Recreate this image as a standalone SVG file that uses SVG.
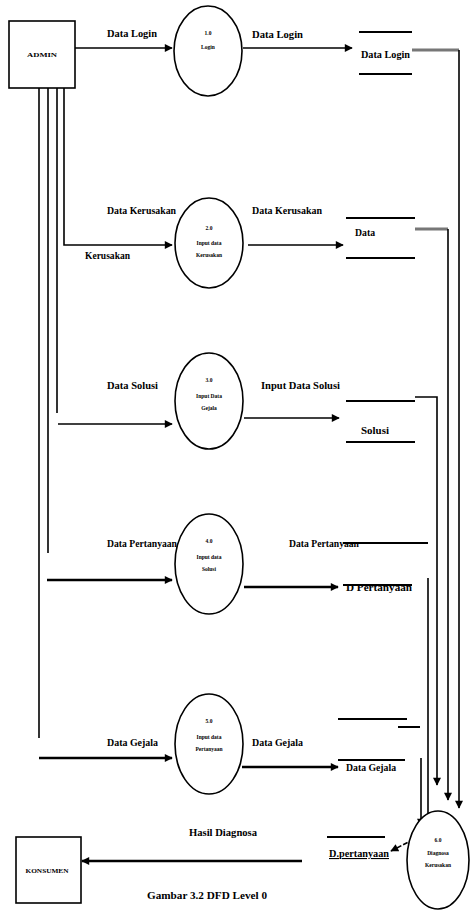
<svg xmlns="http://www.w3.org/2000/svg" width="471" height="913" viewBox="0 0 471 913">
<style>
  .bg{fill:#fff}
  .box{fill:#fff;stroke:#000;stroke-width:1.6}
  .proc{fill:#fff;stroke:#000;stroke-width:1.6}
  .ln{fill:none;stroke:#000;stroke-width:1.6}
  .thk{fill:none;stroke:#000;stroke-width:2.4}
  .gry{fill:none;stroke:#777;stroke-width:3}
  .st{fill:none;stroke:#000;stroke-width:2}
  .lbl{font-family:"Liberation Serif",serif;font-weight:bold;font-size:11px;fill:#000}
  .sm{font-family:"Liberation Serif",serif;font-weight:bold;font-size:5.5px;fill:#000;text-anchor:middle}
</style>
<defs>
  <marker id="ah2" viewBox="0 0 10 10" refX="9" refY="5" markerWidth="9" markerHeight="8" orient="auto" markerUnits="userSpaceOnUse">
    <path d="M0,0 L10,5 L0,10 z" fill="#000"/>
  </marker>
</defs>
<rect class="bg" x="0" y="0" width="471" height="913"/>

<g id="connectors">
  <line class="ln" x1="75" y1="48" x2="172" y2="48" marker-end="url(#ah2)"/>
  <line class="ln" x1="243" y1="48" x2="352" y2="48" marker-end="url(#ah2)"/>
  <polyline class="ln" points="64,75 64,245 172,245" marker-end="url(#ah2)"/>
  <line class="ln" x1="57" y1="75" x2="57" y2="413"/>
  <line class="ln" x1="58" y1="424" x2="172" y2="424" marker-end="url(#ah2)"/>
  <line class="ln" x1="48" y1="75" x2="48" y2="553"/>
  <line class="thk" x1="47" y1="580" x2="172" y2="580" marker-end="url(#ah2)"/>
  <line class="ln" x1="39" y1="75" x2="39" y2="738"/>
  <line class="thk" x1="39" y1="758" x2="172" y2="758" stroke="#555" marker-end="url(#ah2)"/>
  <line class="ln" x1="248" y1="245" x2="343" y2="245" marker-end="url(#ah2)"/>
  <line class="ln" x1="244" y1="418" x2="339" y2="418" marker-end="url(#ah2)"/>
  <line class="thk" x1="244" y1="587" x2="338" y2="587" marker-end="url(#ah2)"/>
  <line class="thk" x1="242" y1="767" x2="338" y2="767" marker-end="url(#ah2)"/>
  <line class="gry" x1="412" y1="50" x2="459" y2="50"/>
  <line class="ln" x1="459" y1="50" x2="459" y2="808" marker-end="url(#ah2)"/>
  <line class="gry" x1="415" y1="229" x2="448" y2="229"/>
  <line class="ln" x1="448" y1="229" x2="448" y2="800" marker-end="url(#ah2)"/>
  <polyline class="ln" points="415,397 437,397 437,785" marker-end="url(#ah2)"/>
  <line class="ln" x1="428" y1="578" x2="428" y2="826" marker-end="url(#ah2)"/>
  <line class="ln" x1="421" y1="758" x2="421" y2="826" marker-end="url(#ah2)"/>
  <line class="ln" x1="420" y1="836" x2="391" y2="851" stroke-dasharray="5,2" marker-end="url(#ah2)"/>
  <line class="thk" x1="302" y1="861" x2="82" y2="861" marker-end="url(#ah2)"/>
</g>

<g id="admin">
  <rect class="box" x="9" y="21" width="66" height="67"/>
  <text class="sm" x="42" y="57" textLength="30" lengthAdjust="spacingAndGlyphs">ADMIN</text>
</g>

<g id="p1">
  <ellipse class="proc" cx="208" cy="51" rx="34" ry="45"/>
  <text class="sm" x="208" y="35">1.0</text>
  <text class="sm" x="208" y="49">Login</text>
</g>

<g id="p2">
  <ellipse class="proc" cx="209" cy="243" rx="34" ry="45"/>
  <text class="sm" x="209" y="230">2.0</text>
  <text class="sm" x="209" y="245">Input data</text>
  <text class="sm" x="209" y="257">Kerusakan</text>
</g>

<g id="p3">
  <ellipse class="proc" cx="209" cy="401" rx="34" ry="48"/>
  <text class="sm" x="209" y="382">3.0</text>
  <text class="sm" x="209" y="398">Input Data</text>
  <text class="sm" x="209" y="410">Gejala</text>
</g>

<g id="p4">
  <ellipse class="proc" cx="209" cy="564" rx="34" ry="50"/>
  <text class="sm" x="209" y="543">4.0</text>
  <text class="sm" x="209" y="559">Input data</text>
  <text class="sm" x="209" y="571">Solusi</text>
</g>

<g id="p5">
  <ellipse class="proc" cx="209" cy="744" rx="34" ry="50"/>
  <text class="sm" x="209" y="723">5.0</text>
  <text class="sm" x="209" y="739">Input data</text>
  <text class="sm" x="209" y="751">Pertanyaan</text>
</g>

<g id="p6">
  <ellipse class="proc" cx="438" cy="860" rx="31" ry="49"/>
  <text class="sm" x="438" y="842">6.0</text>
  <text class="sm" x="438" y="855">Diagnosa</text>
  <text class="sm" x="438" y="867">Kerusakan</text>
</g>

<g id="konsumen">
  <rect class="box" x="16" y="837" width="65" height="66"/>
  <text class="sm" x="47" y="873" textLength="43" lengthAdjust="spacingAndGlyphs">KONSUMEN</text>
</g>

<g id="store-login">
  <line class="st" x1="359" y1="32" x2="412" y2="32"/>
  <line class="st" x1="359" y1="74" x2="412" y2="74"/>
  <text class="lbl" x="361" y="58" textLength="49" lengthAdjust="spacingAndGlyphs">Data Login</text>
</g>

<g id="store-data">
  <line class="st" x1="346" y1="218" x2="415" y2="218"/>
  <line class="st" x1="346" y1="258" x2="415" y2="258"/>
  <text class="lbl" x="355" y="236" textLength="20" lengthAdjust="spacingAndGlyphs">Data</text>
</g>

<g id="store-solusi">
  <line class="st" x1="346" y1="401" x2="415" y2="401"/>
  <line class="st" x1="346" y1="442" x2="415" y2="442"/>
  <text class="lbl" x="361" y="434" textLength="28" lengthAdjust="spacingAndGlyphs">Solusi</text>
</g>

<g id="store-pertanyaan">
  <line class="st" x1="343" y1="543" x2="428" y2="543"/>
  <line class="st" x1="343" y1="585" x2="412" y2="585"/>
  <text class="lbl" x="346" y="591" font-size="9" textLength="66" lengthAdjust="spacingAndGlyphs">D Pertanyaan</text>
</g>

<g id="store-gejala">
  <line class="st" x1="338" y1="719" x2="407" y2="719"/>
  <line class="st" x1="398" y1="727" x2="420" y2="727"/>
  <line class="st" x1="338" y1="760" x2="405" y2="760"/>
  <text class="lbl" x="346" y="771" textLength="50" lengthAdjust="spacingAndGlyphs">Data Gejala</text>
</g>

<g id="store-dpertanyaan">
  <line class="st" x1="327" y1="837" x2="385" y2="837"/>
  <text class="lbl" x="329" y="857" textLength="60" lengthAdjust="spacingAndGlyphs" text-decoration="underline">D.pertanyaan</text>
</g>

<g id="labels">
  <text class="lbl" x="107" y="37" textLength="50" lengthAdjust="spacingAndGlyphs">Data Login</text>
  <text class="lbl" x="252" y="38" textLength="51" lengthAdjust="spacingAndGlyphs">Data Login</text>
  <text class="lbl" x="107" y="214" textLength="69" lengthAdjust="spacingAndGlyphs">Data Kerusakan</text>
  <text class="lbl" x="85" y="259" textLength="45" lengthAdjust="spacingAndGlyphs">Kerusakan</text>
  <text class="lbl" x="252" y="214" textLength="70" lengthAdjust="spacingAndGlyphs">Data Kerusakan</text>
  <text class="lbl" x="107" y="389" textLength="51" lengthAdjust="spacingAndGlyphs">Data Solusi</text>
  <text class="lbl" x="261" y="389" textLength="79" lengthAdjust="spacingAndGlyphs">Input Data Solusi</text>
  <text class="lbl" x="107" y="547" textLength="70" lengthAdjust="spacingAndGlyphs">Data Pertanyaan</text>
  <text class="lbl" x="289" y="547" textLength="70" lengthAdjust="spacingAndGlyphs">Data Pertanyaan</text>
  <text class="lbl" x="107" y="746" textLength="51" lengthAdjust="spacingAndGlyphs">Data Gejala</text>
  <text class="lbl" x="252" y="746" textLength="51" lengthAdjust="spacingAndGlyphs">Data Gejala</text>
  <text class="lbl" x="189" y="836" textLength="68" lengthAdjust="spacingAndGlyphs">Hasil Diagnosa</text>
  <text class="lbl" x="147" y="899" textLength="120" lengthAdjust="spacingAndGlyphs">Gambar 3.2 DFD Level 0</text>
</g>
</svg>
